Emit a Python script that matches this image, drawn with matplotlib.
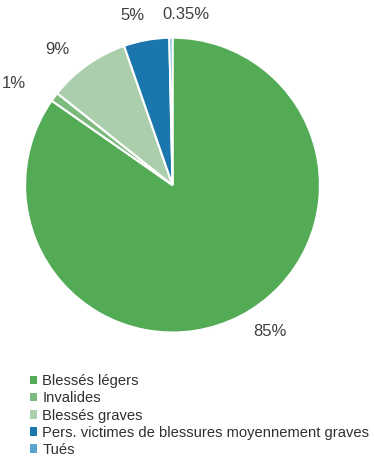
import numpy as np
import matplotlib
matplotlib.use("Agg")
import matplotlib.pyplot as plt
from matplotlib.patches import Patch

# data
categories = ["Blessés légers", "Invalides", "Blessés graves",
              "Pers. victimes de blessures moyennement graves", "Tués"]
values = [85, 1, 9, 5, 0.35]
pct_labels = ["85%", "1%", "9%", "5%", "0.35%"]
colors = ["#53ab56", "#7dba7e", "#abcfac", "#1a76ad", "#5ba3d0"]

plt.rcParams["font.family"] = ["Liberation Sans", "DejaVu Sans"]

fig = plt.figure(figsize=(3.74, 4.68), dpi=100)
ax = fig.add_axes([0.0668, 0.2895, 0.789, 0.630])

wedges, _ = ax.pie(values, colors=colors, startangle=90, counterclock=False,
                   radius=1, wedgeprops=dict(edgecolor="white", linewidth=1.5))
ax.set_xlim(-1, 1)
ax.set_ylim(-1, 1)
ax.set_aspect("equal")
ax.axis("off")

# per-label radial distance and angle tweak, like the hand-placed labels in the source
dist = [1.19, 1.28, 1.21, 1.18, 1.16]
shift = [6, 4, 5, 3, -5]
for w, lab, d, s in zip(wedges, pct_labels, dist, shift):
    ang = np.deg2rad((w.theta1 + w.theta2) / 2 + s)
    ax.text(d * np.cos(ang), d * np.sin(ang), lab, ha="center", va="center",
            fontsize=12, color="#404040", clip_on=False)

handles = [Patch(facecolor=c, edgecolor="none") for c in colors]
fig.legend(handles, categories, loc="upper left", bbox_to_anchor=(0.08, 0.2),
           frameon=False, fontsize=10.6, handlelength=0.5, handleheight=0.5,
           handletextpad=0.35, labelspacing=0.21, borderaxespad=0, borderpad=0,
           labelcolor="#303030")

fig.savefig("out.png", dpi=100)
